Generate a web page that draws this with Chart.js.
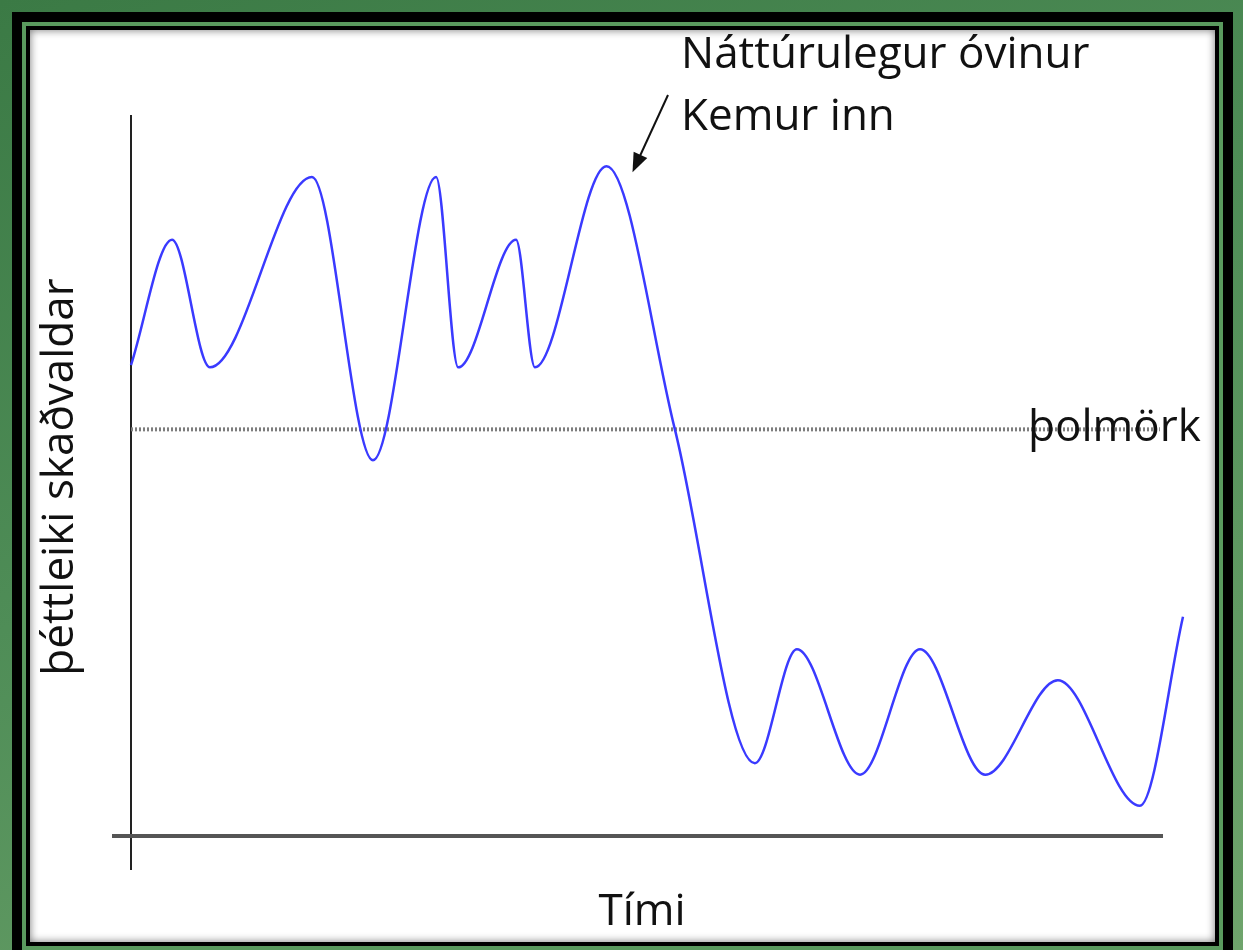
<!DOCTYPE html>
<html>
<head>
<meta charset="utf-8">
<script src="https://cdn.jsdelivr.net/npm/chart.js@4.4.0/dist/chart.umd.min.js"></script>
<style>
  html, body { margin: 0; padding: 0; width: 1243px; height: 950px; overflow: hidden; }
  body { background: linear-gradient(160deg, #3b7a45 0%, #4f8d57 45%, #6fa46c 100%); position: relative; }
  #frame {
    position: absolute; left: 12px; top: 12px; width: 1221px; height: 948px;
    box-sizing: border-box; border: 10px solid #000; background: #5a9a5e;
  }
  #panel {
    position: absolute; left: 4px; top: 4px; right: 4px; bottom: 4px;
    border: 4px solid #000; background: #fff;
    box-shadow: inset 0 0 8px rgba(0, 0, 0, 0.55);
  }
  #chartBox { position: absolute; left: 0; top: 0; width: 1243px; height: 950px; }
</style>
</head>
<body>
<div id="frame"><div id="panel"></div></div>
<div id="chartBox"><canvas id="pestChart" width="1243" height="950"></canvas></div>
<script>
// time (x) and pest density (y), axis goes 0..100 both ways
var timeVals = [0, 3.9, 7.5, 17.2, 23.0, 29.0, 31.1, 36.6, 38.4, 45.2, 51.7, 59.3, 63.3, 69.3, 75.0, 81.2, 88.1, 95.9, 100];
var densityVals = [65.3, 82.7, 65.0, 91.4, 52.1, 91.4, 65.0, 82.7, 65.0, 92.9, 56.4, 10.1, 25.9, 8.5, 25.9, 8.5, 21.6, 4.2, 30.4];

var thresholdVal = 56.4;
var thresholdSpan = [0, 97.8];
var peakIndex = 9; // where the natural enemy comes in

var labels = {
    yTitle: 'þéttleiki skaðvaldar',
    xTitle: 'Tími',
    threshold: 'þolmörk',
    note1: 'Náttúrulegur óvinur',
    note2: 'Kemur inn'
};

var curvePoints = timeVals.map(function (t, i) { return { x: t, y: densityVals[i] }; });
var thresholdPoints = thresholdSpan.map(function (t) { return { x: t, y: thresholdVal }; });

var fontFam = '"Open Sans", "Noto Sans", sans-serif';

var decorPlugin = {
    id: 'decor',
    beforeDatasetsDraw: function (chart) {
        var ctx = chart.ctx;
        var xs = chart.scales.x, ys = chart.scales.y;
        var x0 = xs.getPixelForValue(0);
        var y0 = ys.getPixelForValue(0);
        ctx.save();
        // y axis
        ctx.strokeStyle = '#222';
        ctx.lineWidth = 2;
        ctx.beginPath();
        ctx.moveTo(x0, ys.getPixelForValue(100));
        ctx.lineTo(x0, y0 + 34);
        ctx.stroke();
        // x axis
        ctx.strokeStyle = '#555';
        ctx.lineWidth = 4;
        ctx.beginPath();
        ctx.moveTo(x0 - 19, y0);
        ctx.lineTo(xs.getPixelForValue(98.1), y0);
        ctx.stroke();
        ctx.restore();
    },
    afterDatasetsDraw: function (chart) {
        var ctx = chart.ctx;
        var xs = chart.scales.x, ys = chart.scales.y;
        ctx.save();
        ctx.fillStyle = '#111';
        ctx.font = '44px ' + fontFam;
        ctx.textBaseline = 'alphabetic';

        // threshold label
        ctx.textAlign = 'left';
        ctx.fillText(labels.threshold, 1028, ys.getPixelForValue(thresholdVal) + 12);

        // annotation
        ctx.fillText(labels.note1, 681, 68);
        ctx.fillText(labels.note2, 681, 130);

        // arrow toward the last high peak
        var px = xs.getPixelForValue(timeVals[peakIndex]);
        var py = ys.getPixelForValue(densityVals[peakIndex]);
        var tipX = px + 26, tipY = py + 6;
        var startX = 668, startY = 95;
        var ang = Math.atan2(tipY - startY, tipX - startX);
        ctx.strokeStyle = '#111';
        ctx.lineWidth = 2;
        ctx.beginPath();
        ctx.moveTo(startX, startY);
        ctx.lineTo(tipX - 12 * Math.cos(ang), tipY - 12 * Math.sin(ang));
        ctx.stroke();
        ctx.beginPath();
        ctx.moveTo(tipX, tipY);
        ctx.lineTo(tipX - 19 * Math.cos(ang) + 7.5 * Math.sin(ang), tipY - 19 * Math.sin(ang) - 7.5 * Math.cos(ang));
        ctx.lineTo(tipX - 19 * Math.cos(ang) - 7.5 * Math.sin(ang), tipY - 19 * Math.sin(ang) + 7.5 * Math.cos(ang));
        ctx.closePath();
        ctx.fill();

        // x title
        ctx.textAlign = 'center';
        ctx.fillText(labels.xTitle, 642, 925);

        // y title
        ctx.translate(73, 477);
        ctx.rotate(-Math.PI / 2);
        ctx.fillText(labels.yTitle, 0, 0);
        ctx.restore();
    }
};

var canvas = document.getElementById('pestChart');
var pestChart = new Chart(canvas, {
    type: 'line',
    data: {
        datasets: [{
            data: curvePoints,
            borderColor: '#3a3aff',
            borderWidth: 2.5,
            pointRadius: 0,
            fill: false,
            cubicInterpolationMode: 'monotone',
            clip: false
        }, {
            data: thresholdPoints,
            borderColor: '#7d7d7d',
            borderWidth: 4,
            borderDash: [2, 2],
            pointRadius: 0,
            fill: false,
            clip: false
        }]
    },
    options: {
        responsive: false,
        animation: false,
        events: [],
        layout: {
            padding: { left: 131, right: 60, top: 115, bottom: 114 }
        },
        scales: {
            x: { type: 'linear', min: 0, max: 100, display: false },
            y: { type: 'linear', min: 0, max: 100, display: false }
        },
        plugins: {
            legend: { display: false },
            tooltip: { enabled: false }
        }
    },
    plugins: [decorPlugin]
});
</script>
</body>
</html>
